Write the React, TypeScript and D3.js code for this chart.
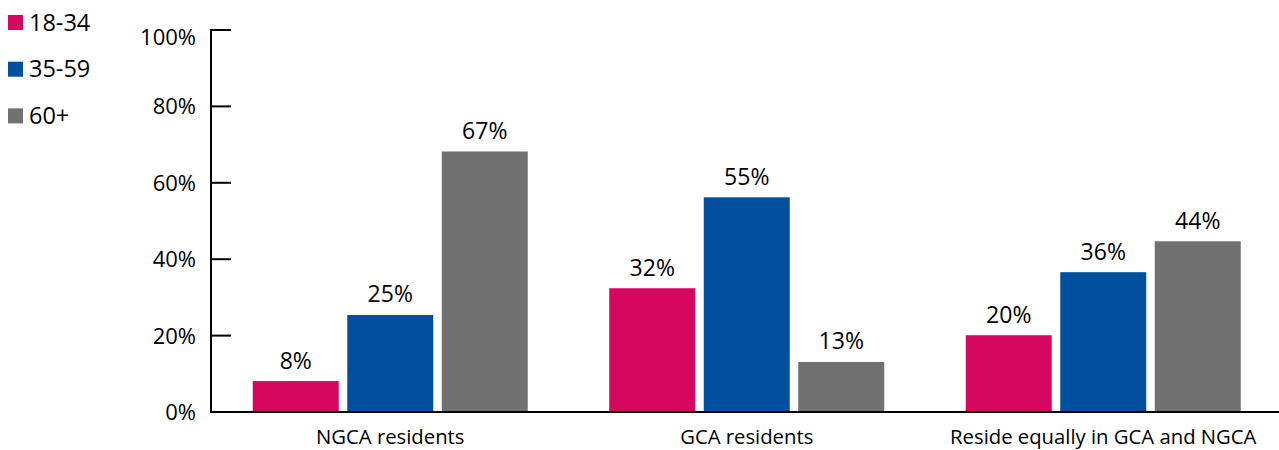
import React from "react";
import * as d3 from "d3";

const categories = ["NGCA residents", "GCA residents", "Reside equally in GCA and NGCA"];
const seriesNames = ["18-34", "35-59", "60+"];
const seriesColors = ["#D6075E", "#00509E", "#717171"];
const values18_34 = [8.1, 32.4, 20.1];
const values35_59 = [25.4, 56.2, 36.6];
const values60 = [68.2, 13.1, 44.7];
const labels18_34 = ["8%", "32%", "20%"];
const labels35_59 = ["25%", "55%", "36%"];
const labels60 = ["67%", "13%", "44%"];
const yTicks = [0, 20, 40, 60, 80, 100];

const W = 1279;
const H = 450;
const FONT = "Open Sans, Liberation Sans, sans-serif";

export default function App() {
  const axisX = 211;
  const top = 30;
  const bottom = 412;
  const x = d3.scaleBand<string>().domain(categories).range([212, 1281.5]).paddingInner(0).paddingOuter(0);
  const inner = d3
    .scaleBand<string>()
    .domain(seriesNames)
    .range([40.75, 315.75])
    .paddingInner(0.09)
    .paddingOuter(0);
  const y = d3.scaleLinear().domain([0, 100]).range([bottom, top]);
  const allValues = [values18_34, values35_59, values60];
  const allLabels = [labels18_34, labels35_59, labels60];

  return (
    <svg width={W} height={H} style={{ position: "absolute", left: 0, top: 0, background: "#fff" }} fontFamily={FONT}>
      {/* legend */}
      {seriesNames.map((s, i) => (
        <g key={s} transform={`translate(8, ${15 + i * 46.7})`}>
          <rect x={0} y={0} width={15} height={15} fill={seriesColors[i]} />
          <text x={21} y={15.5} fontSize={23.5} fill="#000">{s}</text>
        </g>
      ))}
      {/* bars */}
      {categories.map((c, ci) => (
        <g key={c}>
          {seriesNames.map((s, si) => {
            const v = allValues[si][ci];
            const bx = (x(c) as number) + (inner(s) as number);
            const bw = inner.bandwidth();
            return (
              <g key={s}>
                <rect x={bx} y={y(v)} width={bw} height={y(0) - y(v)} fill={seriesColors[si]} />
                <text x={bx + bw / 2} y={y(v) - 12.5} textAnchor="middle" fontSize={23} fill="#000">
                  {allLabels[si][ci]}
                </text>
              </g>
            );
          })}
          <text x={(x(c) as number) + x.bandwidth() / 2} y={443.5} textAnchor="middle" fontSize={20.3} fill="#000">
            {c}
          </text>
        </g>
      ))}
      {/* y axis */}
      <line x1={axisX} x2={axisX} y1={top - 1} y2={bottom + 1} stroke="#000" strokeWidth={2} />
      {yTicks.map((t) => (
        <g key={t}>
          <line x1={axisX} x2={axisX + 20} y1={y(t)} y2={y(t)} stroke="#000" strokeWidth={2} />
          <text
            x={196}
            y={Math.max(y(t), 37)}
            dy="0.36em"
            textAnchor="end"
            fontSize={22}
            fill="#000"
          >
            {t}%
          </text>
        </g>
      ))}
      {/* x axis */}
      <line x1={axisX} x2={W} y1={bottom} y2={bottom} stroke="#000" strokeWidth={2} />
    </svg>
  );
}
